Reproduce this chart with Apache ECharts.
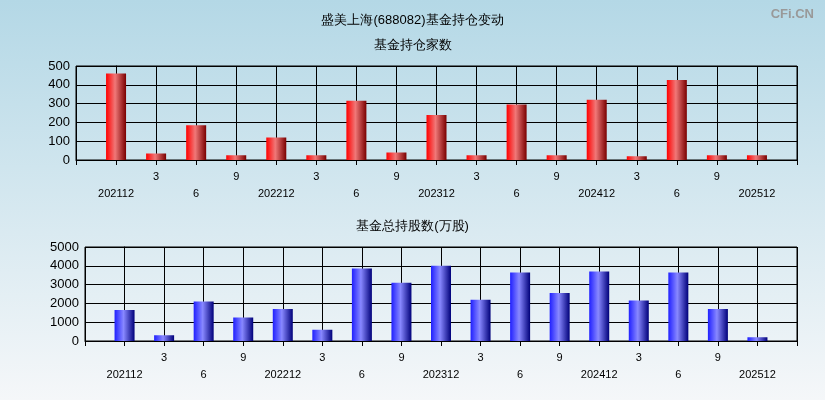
<!DOCTYPE html><html><head><meta charset="utf-8"><script src="https://cdn.jsdelivr.net/npm/echarts@6/dist/echarts.min.js"></script></head>
<body style="margin:0"><div id="c" style="width:825px;height:400px;background:linear-gradient(#b4d8e6,#f5f7f9)"></div>
<script>
const labels=['202112','3','6','9','202212','3','6','9','202312','3','6','9','202412','3','6','9','202512'];
const holders=[460,35,185,25,120,25,315,40,240,25,295,25,320,20,425,25,25];
const shares=[1650,300,2100,1250,1700,600,3850,3100,4000,2200,3650,2550,3700,2150,3650,1700,200];
const grad=(a,b,c)=>new echarts.graphic.LinearGradient(0,0,1,0,[{offset:0,color:a},{offset:0.45,color:b},{offset:1,color:c}]);
const xa=(gi)=>({type:'value',gridIndex:gi,min:-1,max:17,interval:1,
 axisLine:{lineStyle:{color:'#000'}},axisTick:{show:true,length:5,lineStyle:{color:'#000'}},
 splitLine:{show:true,lineStyle:{color:'#000'}},
 axisLabel:{color:'#000',fontSize:11,margin:8,lineHeight:17,formatter:v=>{if(v<0||v>16)return '';return v%2===0?'\n'+labels[v]:labels[v];}}});
const ya=(gi,max,iv)=>({type:'value',gridIndex:gi,min:0,max:max,interval:iv,
 axisLine:{show:true,lineStyle:{color:'#000'}},axisTick:{show:true,lineStyle:{color:'#000'}},
 splitLine:{lineStyle:{color:'#000'}},axisLabel:{color:'#000',fontSize:13,margin:6,formatter:v=>String(v)}});
const chart=echarts.init(document.getElementById('c'));
chart.setOption({
 title:[{text:'盛美上海(688082)基金持仓变动',left:'center',top:9,textStyle:{fontSize:13,fontWeight:'normal',color:'#000'}},
  {text:'基金持仓家数',left:'center',top:34,textStyle:{fontSize:13,fontWeight:'normal',color:'#000'}},
  {text:'基金总持股数(万股)',left:'center',top:215,textStyle:{fontSize:13,fontWeight:'normal',color:'#000'}},
  {text:'CFi.CN',right:6,top:3,textStyle:{fontSize:13,color:'#999',fontWeight:'bold'}}],
 grid:[{left:76,right:28,top:66,bottom:240,show:true,borderColor:'#000'},{left:85,right:28,top:247,bottom:59,show:true,borderColor:'#000'}],
 xAxis:[xa(0),xa(1)],
 yAxis:[ya(0,500,100),ya(1,5000,1000)],
 series:[{type:'bar',xAxisIndex:0,yAxisIndex:0,barWidth:20,data:holders.map((v,i)=>[i,v]),itemStyle:{color:grad('#ff0000','#f07878','#7a0000')}},
  {type:'bar',xAxisIndex:1,yAxisIndex:1,barWidth:20,data:shares.map((v,i)=>[i,v]),itemStyle:{color:grad('#2020ff','#8888ff','#00007a')}}]
});
</script></body></html>
